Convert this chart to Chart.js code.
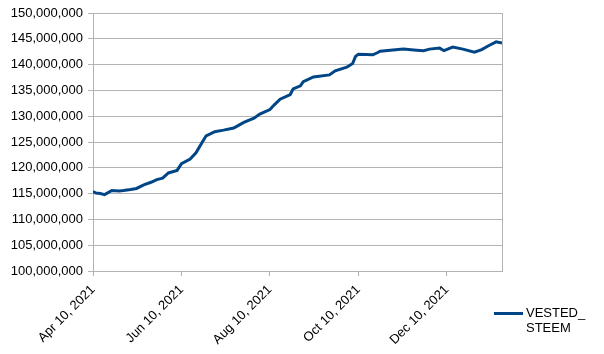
<!DOCTYPE html>
<html>
<head>
<meta charset="utf-8">
<script src="https://cdn.jsdelivr.net/npm/chart.js@4"></script>
<style>
  html, body { margin: 0; padding: 0; background: #fff; }
  #wrap { position: relative; width: 604px; height: 354px; }
  #legend { position: absolute; left: 494px; top: 305px; font: 13px "Liberation Sans", Arial, sans-serif; color: #000; }
  #legend .sw { position: absolute; left: 0; top: 7px; width: 29px; height: 3px; background: #004586; }
  #legend .tx { position: absolute; left: 32px; top: 0; line-height: 15px; white-space: nowrap; }
</style>
</head>
<body>
<div id="wrap">
  <canvas id="c" width="604" height="354"></canvas>
  <div id="legend"><div class="sw"></div><div class="tx">VESTED_<br>STEEM</div></div>
</div>
<script>
// Days since Apr 10, 2021
const dayOffsets = [0,2,5,8,13,18,21,26,30,35,40,44,48,52,58,61,67,71,75,78,84,90,97,104,111,115,122,125,129,136,138,143,145,152,163,167,175,179,181,183,193,196,198,205,214,223,228,232,239,242,248,255,263,268,273,278,282];
const vestedSteem = [115.4,115.1,115.0,114.8,115.6,115.5,115.6,115.8,116.0,116.7,117.2,117.7,118.0,119.0,119.5,120.8,121.7,122.9,124.8,126.2,127.0,127.3,127.7,128.8,129.6,130.4,131.3,132.2,133.3,134.2,135.3,135.9,136.7,137.6,138.0,138.8,139.5,140.2,141.6,142.0,141.9,142.3,142.6,142.8,143.0,142.8,142.7,143.0,143.2,142.7,143.4,143.0,142.4,142.9,143.7,144.4,144.2].map(v => v * 1e6);
const xTickDays = [0, 61, 122, 183, 244];
const xTickLabels = ["Apr 10, 2021", "Jun 10, 2021", "Aug 10, 2021", "Oct 10, 2021", "Dec 10, 2021"];
const seriesName = "VESTED_STEEM";

const points = dayOffsets.map((d, i) => ({ x: d, y: vestedSteem[i] }));
const gridColor = '#b3b3b3';
const font = { family: '"Liberation Sans", Arial, sans-serif', size: 13 };

const frame = {
  id: 'frame',
  afterDraw(chart) {
    const a = chart.chartArea, ctx = chart.ctx;
    ctx.save();
    ctx.strokeStyle = gridColor;
    ctx.lineWidth = 1;
    ctx.beginPath();
    ctx.moveTo(Math.round(a.right) + 0.5, a.top);
    ctx.lineTo(Math.round(a.right) + 0.5, a.bottom);
    ctx.stroke();
    ctx.restore();
  }
};

new Chart(document.getElementById('c'), {
  type: 'line',
  data: { datasets: [{ label: seriesName, data: points, borderColor: '#004586', borderWidth: 3, pointRadius: 0, tension: 0, fill: false }] },
  options: {
    responsive: false,
    animation: false,
    layout: { padding: { top: 13, right: 102, left: 0, bottom: 0 } },
    plugins: { legend: { display: false }, tooltip: { enabled: false } },
    scales: {
      x: {
        type: 'linear', min: 0, max: 282,
        afterBuildTicks(scale) { scale.ticks = xTickDays.map(v => ({ value: v })); },
        afterFit(scale) { scale.height = 83; },
        ticks: {
          color: '#000', font, autoSkip: false, maxRotation: 45, minRotation: 45, padding: 6,
          callback(v) { const i = xTickDays.indexOf(v); return i >= 0 ? xTickLabels[i] : ''; }
        },
        grid: { display: true, drawOnChartArea: false, color: gridColor, tickLength: 5 },
        border: { color: gridColor, width: 1 }
      },
      y: {
        min: 100000000, max: 150000000,
        afterFit(scale) { scale.width = 93; },
        ticks: {
          stepSize: 5000000, color: '#000', font, padding: 5,
          callback(v) { return v.toLocaleString('en-US'); }
        },
        grid: { color: gridColor, tickLength: 5 },
        border: { color: gridColor, width: 1 }
      }
    }
  },
  plugins: [frame]
});
</script>
</body>
</html>
